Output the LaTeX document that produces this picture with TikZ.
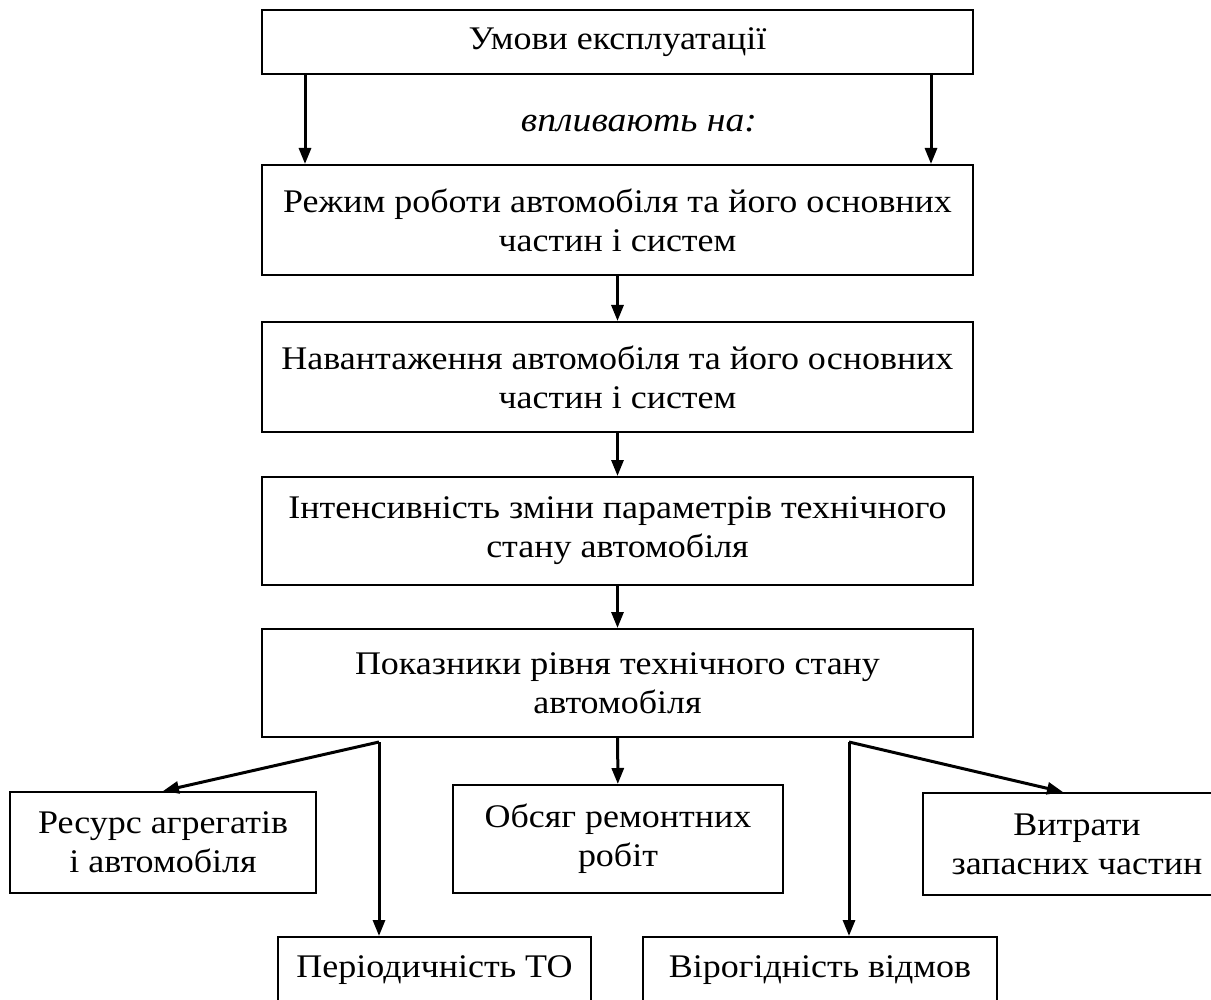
\documentclass[tikz,border=0pt]{standalone}
\usepackage{fontspec}
\setmainfont{Liberation Serif}[FakeStretch=1.09]
\usetikzlibrary{arrows.meta,calc}
\begin{document}
\begin{tikzpicture}[x=0.5pt,y=-0.5pt,
  box/.style={draw, line width=1pt, rectangle, inner sep=0pt, align=center,
    font=\fontsize{16.5}{19.5}\selectfont},
  arr/.style={line width=1.5pt, -{Triangle[length=8pt,width=6pt]}}]
\useasboundingbox (0,0) rectangle (1211,1000);
\fill[white] (0,0) rectangle (1211,1000);
\node[box, minimum width=355.5pt, minimum height=32pt] (b1) at (617.5,42) {Умови експлуатації};
\node[box, minimum width=355.5pt, minimum height=55pt] (b2) at (617.5,220) {Режим роботи автомобіля та його основних\\частин і систем};
\node[box, minimum width=355.5pt, minimum height=55pt] (b3) at (617.5,377) {Навантаження автомобіля та його основних\\частин і систем};
\node[box, minimum width=355.5pt, minimum height=54pt] (b4) at (617.5,531) {Інтенсивність зміни параметрів технічного\\стану автомобіля};
\node[box, minimum width=355.5pt, minimum height=54pt] (b5) at (617.5,683) {Показники рівня технічного стану\\автомобіля};
\node[font=\fontsize{17.3}{20}\selectfont\itshape] (t) at (639,124) {впливають на:};
\node[box, minimum width=153pt, minimum height=50.5pt] (r1) at (163,842.5) {Ресурс агрегатів\\і автомобіля};
\node[box, minimum width=165pt, minimum height=54pt] (r2) at (618,839) {Обсяг ремонтних\\робіт};
\node[box, minimum width=154pt, minimum height=51pt] (r3) at (1077,844) {Витрати\\запасних частин};
\node[box, minimum width=156.5pt, minimum height=33pt] (r4) at (434.5,970) {Періодичність ТО};
\node[box, minimum width=177pt, minimum height=33pt] (r5) at (820,970) {Вірогідність відмов};
\draw[arr] ($(b1.south west)+(44,0)$) -- ($(b2.north west)+(44,0)$);
\draw[arr] ($(b1.south east)+(-43,0)$) -- ($(b2.north east)+(-43,0)$);
\draw[arr] (b2) -- (b3);
\draw[arr] (b3) -- (b4);
\draw[arr] (b4) -- (b5);
\draw[arr] (b5) -- (r2);
\coordinate (sL) at ($(b5.south west)+(118,4)$);
\coordinate (sR) at ($(b5.south west)+(588,4)$);
\draw[arr] (sL) -- (r1.north);
\draw[arr] (sL) -- (sL |- r4.north);
\draw[arr] (sR) -- ($(r3.north west)+(141,0)$);
\draw[arr] (sR) -- (sR |- r5.north);
\end{tikzpicture}
\end{document}
